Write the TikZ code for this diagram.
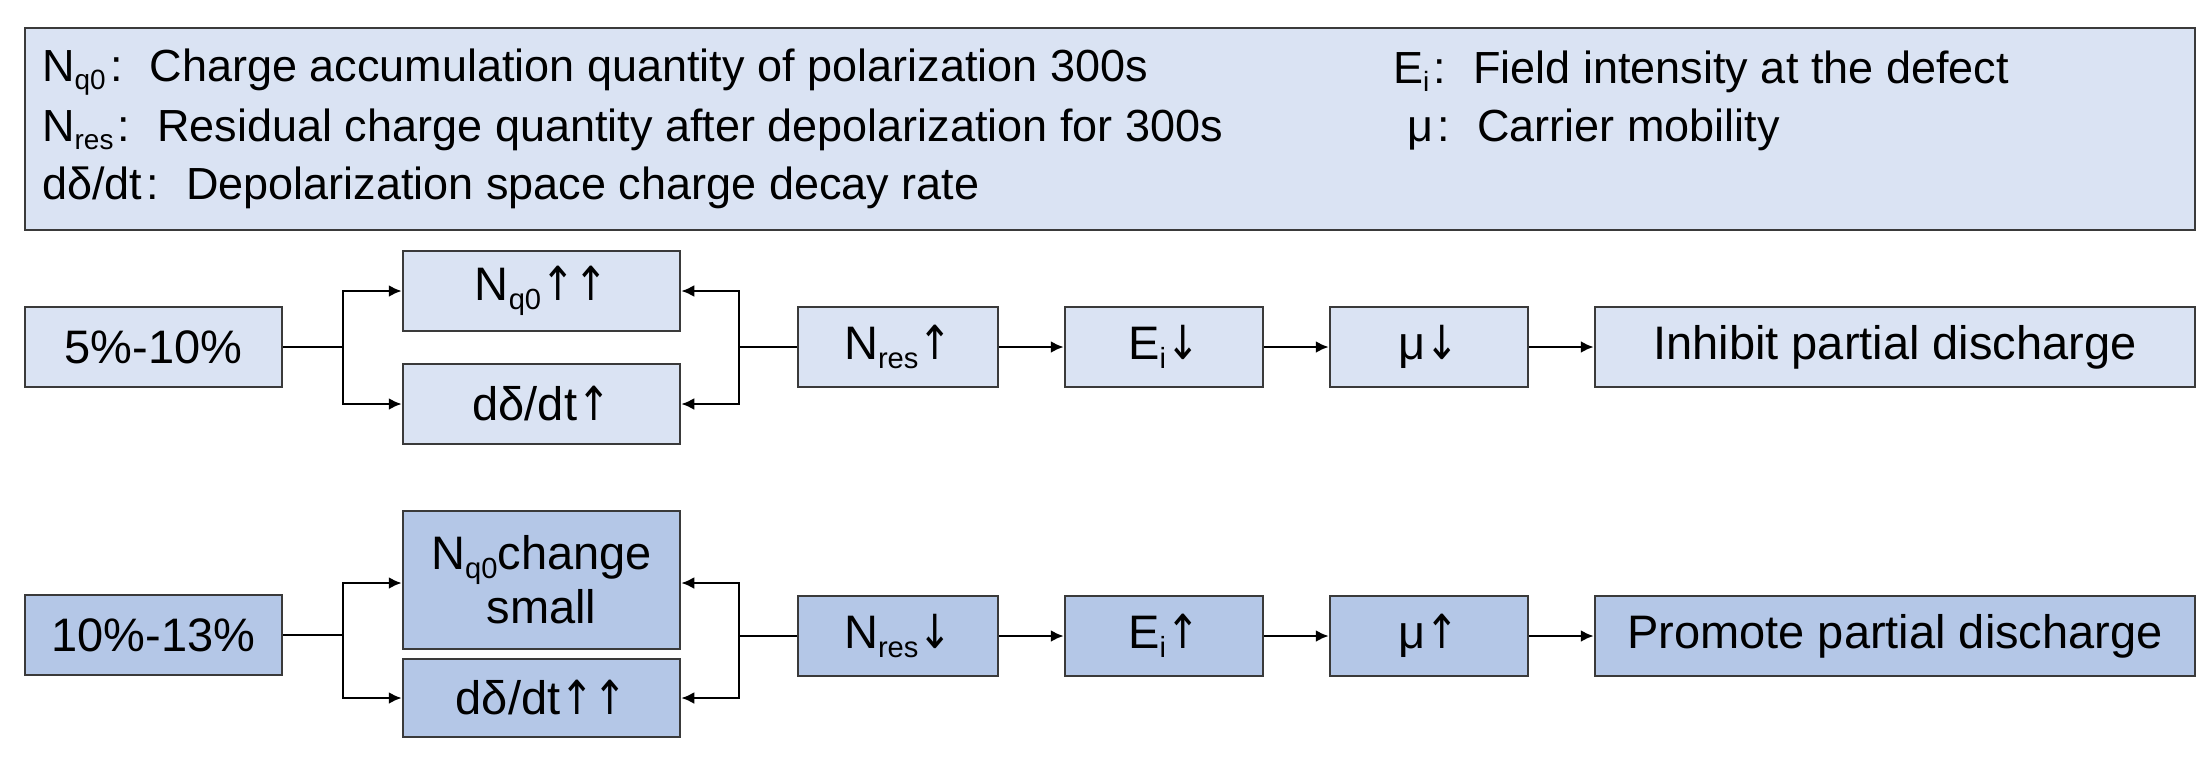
\documentclass[tikz,border=0pt]{standalone}
\usepackage{fontspec}
\usepackage{graphicx}
\setmainfont{Liberation Sans}
\newfontfamily\dv{DejaVu Sans}
\usetikzlibrary{arrows.meta}
\newcommand\sbs[1]{\raisebox{-0.35ex}{\scalebox{0.62}{#1}}}
\newcommand\up{{\dv\scalebox{0.85}[1]{↑}}}
\newcommand\dn{{\dv\scalebox{0.85}[1]{↓}}}
\newcommand\cln{\hspace{0.1em}:\hspace{0.6em}}
\definecolor{la}{HTML}{DAE3F3}
\definecolor{da}{HTML}{B4C7E7}
\definecolor{bd}{HTML}{3A3A3A}
\begin{document}
\begin{tikzpicture}[x=1pt,y=-1pt,
  bx/.style={draw=bd,line width=2.5pt,fill=la,minimum height=80pt,inner sep=0pt,align=center,font=\fontsize{47}{54}\selectfont},
  bxd/.style={bx,fill=da},
  ar/.style={line width=2.5pt,-{Latex[length=13pt,width=12pt]}},
  ln/.style={line width=2.5pt}]
\useasboundingbox (0,0) rectangle (2211,761);
\node[draw=bd,line width=2.5pt,fill=la,minimum width=2170pt,minimum height=202pt,inner sep=0pt] (top) at (1110,129) {};
\begin{scope}[every node/.style={anchor=west,inner sep=0pt,font=\fontsize{45}{52}\selectfont}]
\node (t1) at (42,72) {N\sbs{q0}\cln Charge accumulation quantity of polarization 300s};
\node (t2) at (42,130) {N\sbs{res}\cln Residual charge quantity after depolarization for 300s};
\node (t3) at (42,188) {dδ/dt\cln Depolarization space charge decay rate};
\node (t4) at (1393,72) {E\sbs{i}\cln Field intensity at the defect};
\node (t5) at (1407,130) {μ\cln Carrier mobility};
\end{scope}
% row 1
\node[bx,minimum width=257pt] (b1) at (153.5,347) {5\%-10\%};
\node[bx,minimum width=277pt] (n1) at (541.5,291) {N\sbs{q0}\up\up};
\node[bx,minimum width=277pt] (d1) at (541.5,404) {dδ/dt\up};
\node[bx,minimum width=200pt] (r1) at (898,347) {N\sbs{res}\up};
\node[bx,minimum width=198pt] (e1) at (1164,347) {E\sbs{i}\dn};
\node[bx,minimum width=198pt] (m1) at (1429,347) {μ\dn};
\node[bx,minimum width=600pt] (o1) at (1895,347) {Inhibit partial discharge};
\coordinate (L1) at (343,347);
\coordinate (R1) at (739,347);
\draw[ln] (b1.east) -- (L1);
\draw[ar] (L1) |- (n1.west);
\draw[ar] (L1) |- (d1.west);
\draw[ln] (r1.west) -- (R1);
\draw[ar] (R1) |- (n1.east);
\draw[ar] (R1) |- (d1.east);
\draw[ar] (r1) -- (e1);
\draw[ar] (e1) -- (m1);
\draw[ar] (m1) -- (o1);
% row 2
\node[bxd,minimum width=257pt] (b2) at (153.5,635) {10\%-13\%};
\node[bxd,minimum width=277pt,minimum height=138pt] (n2) at (541.5,580) {N\sbs{q0}change\\small};
\node[bxd,minimum width=277pt,minimum height=78pt] (d2) at (541.5,698) {dδ/dt\up\up};
\node[bxd,minimum width=200pt] (r2) at (898,636) {N\sbs{res}\dn};
\node[bxd,minimum width=198pt] (e2) at (1164,636) {E\sbs{i}\up};
\node[bxd,minimum width=198pt] (m2) at (1429,636) {μ\up};
\node[bxd,minimum width=600pt] (o2) at (1895,636) {Promote partial discharge};
\coordinate (L2) at (343,635);
\coordinate (R2) at (739,636);
\draw[ln] (b2.east) -- (L2);
\draw[ar] (L2) |- ([yshift=-3pt]n2.west);
\draw[ar] (L2) |- (d2.west);
\draw[ln] (r2.west) -- (R2);
\draw[ar] (R2) |- ([yshift=-3pt]n2.east);
\draw[ar] (R2) |- (d2.east);
\draw[ar] (r2) -- (e2);
\draw[ar] (e2) -- (m2);
\draw[ar] (m2) -- (o2);
\end{tikzpicture}
\end{document}
